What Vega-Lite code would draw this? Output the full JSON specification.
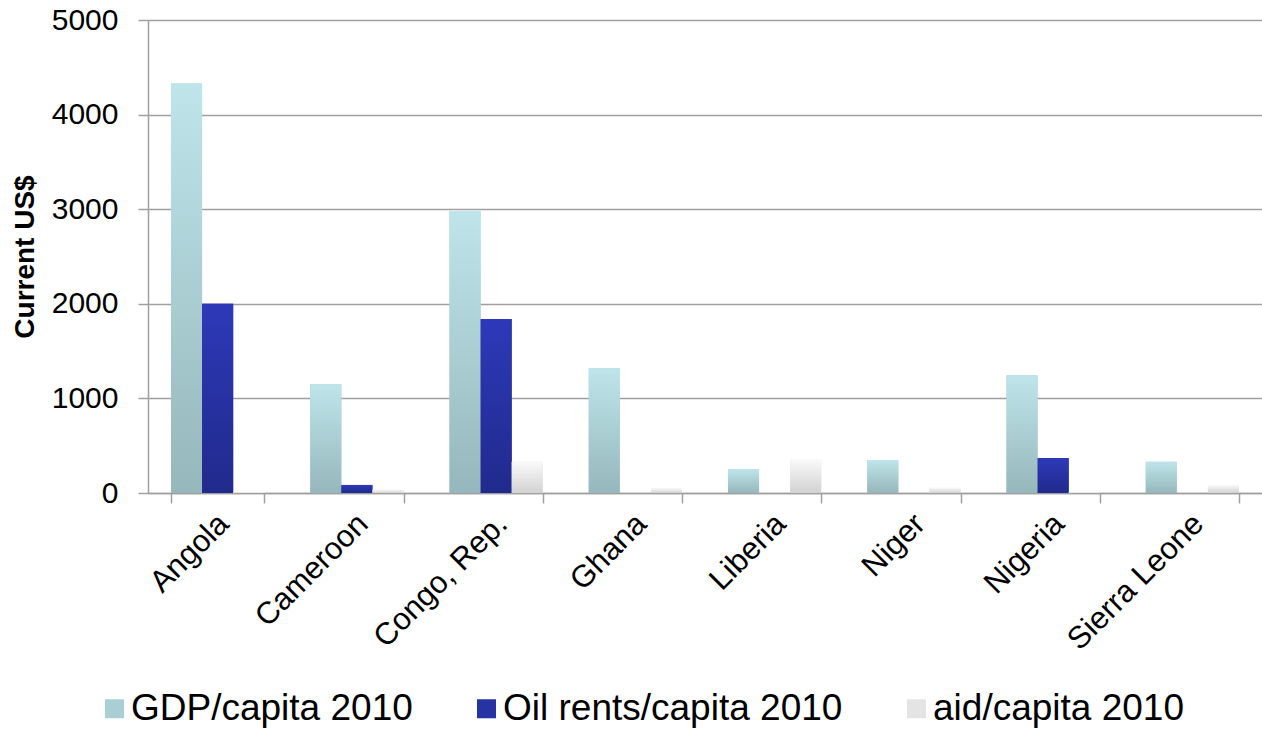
{
  "$schema": "https://vega.github.io/schema/vega-lite/v6.json",
  "width": 1114,
  "height": 473,
  "autosize": {"type": "none"},
  "padding": {"left": 148, "top": 20, "right": 0, "bottom": 236},
  "background": "white",
  "config": {
    "view": {"stroke": null},
    "font": "Liberation Sans",
    "axis": {"labelFont": "Liberation Sans", "titleFont": "Liberation Sans"},
    "legend": {"labelFont": "Liberation Sans"}
  },
  "data": {
    "values": [
      {"country": "Angola", "series": "GDP/capita 2010", "value": 4330},
      {"country": "Angola", "series": "Oil rents/capita 2010", "value": 2000},
      {"country": "Angola", "series": "aid/capita 2010", "value": 10},
      {"country": "Cameroon", "series": "GDP/capita 2010", "value": 1150},
      {"country": "Cameroon", "series": "Oil rents/capita 2010", "value": 85},
      {"country": "Cameroon", "series": "aid/capita 2010", "value": 35},
      {"country": "Congo, Rep.", "series": "GDP/capita 2010", "value": 2980},
      {"country": "Congo, Rep.", "series": "Oil rents/capita 2010", "value": 1840},
      {"country": "Congo, Rep.", "series": "aid/capita 2010", "value": 330},
      {"country": "Ghana", "series": "GDP/capita 2010", "value": 1320},
      {"country": "Ghana", "series": "Oil rents/capita 2010", "value": 0},
      {"country": "Ghana", "series": "aid/capita 2010", "value": 50},
      {"country": "Liberia", "series": "GDP/capita 2010", "value": 255},
      {"country": "Liberia", "series": "Oil rents/capita 2010", "value": 0},
      {"country": "Liberia", "series": "aid/capita 2010", "value": 360},
      {"country": "Niger", "series": "GDP/capita 2010", "value": 350},
      {"country": "Niger", "series": "Oil rents/capita 2010", "value": 0},
      {"country": "Niger", "series": "aid/capita 2010", "value": 55},
      {"country": "Nigeria", "series": "GDP/capita 2010", "value": 1245},
      {"country": "Nigeria", "series": "Oil rents/capita 2010", "value": 370},
      {"country": "Nigeria", "series": "aid/capita 2010", "value": 10},
      {"country": "Sierra Leone", "series": "GDP/capita 2010", "value": 330},
      {"country": "Sierra Leone", "series": "Oil rents/capita 2010", "value": 0},
      {"country": "Sierra Leone", "series": "aid/capita 2010", "value": 85}
    ]
  },
  "encoding": {
    "x": {
      "field": "country",
      "type": "nominal",
      "sort": null,
      "scale": {"paddingInner": 0.33, "paddingOuter": 0.165},
      "axis": {
        "title": null,
        "labelAngle": -45,
        "labelAlign": "right",
        "labelBaseline": "middle",
        "labelFontSize": 31,
        "labelColor": "black",
        "labelPadding": 16,
        "labelOffset": 6,
        "tickBand": "extent",
        "tickSize": 10,
        "tickColor": "#A0A0A0",
        "tickWidth": 1.5,
        "domainColor": "#A0A0A0",
        "domainWidth": 1.5,
        "grid": false
      }
    },
    "xOffset": {
      "field": "series",
      "type": "nominal",
      "scale": {"domain": ["GDP/capita 2010", "Oil rents/capita 2010", "aid/capita 2010"]}
    },
    "y": {
      "field": "value",
      "type": "quantitative",
      "scale": {"domain": [0, 5000], "nice": false},
      "axis": {
        "title": "Current US$",
        "titleFontSize": 28,
        "titleFontWeight": "bold",
        "titleColor": "black",
        "titlePadding": 12,
        "values": [0, 1000, 2000, 3000, 4000, 5000],
        "format": "d",
        "labelFontSize": 30,
        "labelColor": "black",
        "labelPadding": 20,
        "tickSize": 10,
        "tickColor": "#A0A0A0",
        "tickWidth": 1.5,
        "domainColor": "#A0A0A0",
        "domainWidth": 1.5,
        "gridColor": "#A0A0A0",
        "gridWidth": 1.5
      }
    }
  },
  "layer": [
    {
      "mark": {"type": "bar"},
      "encoding": {
        "color": {
          "field": "series",
          "type": "nominal",
          "scale": {
            "domain": ["GDP/capita 2010", "Oil rents/capita 2010", "aid/capita 2010"],
            "range": ["#A9CFD4", "#2732A3", "#E4E4E4"]
          },
          "legend": {
            "title": null,
            "orient": "none",
            "direction": "horizontal",
            "legendX": -52,
            "legendY": 670,
            "padding": 0,
            "labelFontSize": 37,
            "labelColor": "black",
            "labelOffset": -2,
            "columnPadding": 55,
            "symbolType": "square",
            "symbolSize": 361,
            "symbolStrokeWidth": 0,
            "symbolOpacity": 1,
            "labelLimit": 0
          }
        }
      }
    },
    {
      "transform": [{"filter": "datum.series == 'GDP/capita 2010'"}],
      "mark": {"type": "bar", "color": {"gradient": "linear", "x1": 0, "y1": 0, "x2": 0, "y2": 1, "stops": [{"offset": 0, "color": "#BEE5EA"}, {"offset": 1, "color": "#96B7BB"}]}}
    },
    {
      "transform": [{"filter": "datum.series == 'Oil rents/capita 2010'"}],
      "mark": {"type": "bar", "color": {"gradient": "linear", "x1": 0, "y1": 0, "x2": 0, "y2": 1, "stops": [{"offset": 0, "color": "#2D39B8"}, {"offset": 1, "color": "#212A8C"}]}}
    },
    {
      "transform": [{"filter": "datum.series == 'aid/capita 2010'"}],
      "mark": {"type": "bar", "color": {"gradient": "linear", "x1": 0, "y1": 0, "x2": 0, "y2": 1, "stops": [{"offset": 0, "color": "#FAFAFA"}, {"offset": 1, "color": "#D2D2D2"}]}}
    }
  ]
}
